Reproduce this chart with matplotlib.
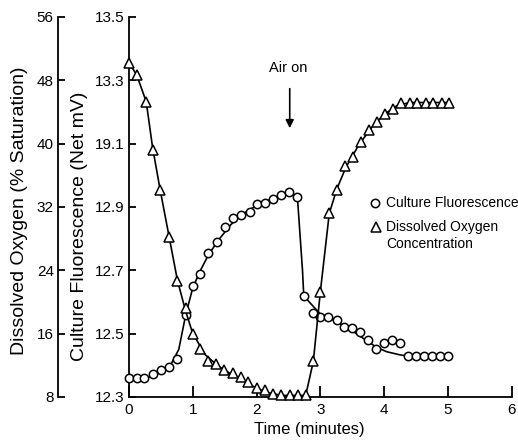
import matplotlib
matplotlib.use('Agg')
import matplotlib.pyplot as plt

plt.rcParams['font.family'] = ['Liberation Sans', 'DejaVu Sans']

# measured data (minutes)
fluor_t = [0.0, 0.12, 0.24, 0.37, 0.50, 0.63, 0.76, 0.89, 1.0, 1.12,
           1.24, 1.38, 1.50, 1.63, 1.76, 1.89, 2.01, 2.13, 2.26, 2.38, 2.51, 2.64,
           2.74, 2.88, 2.99, 3.12, 3.26, 3.37, 3.50, 3.62, 3.75, 3.87, 4.0, 4.13, 4.25,
           4.38, 4.50, 4.63, 4.75, 4.88, 5.0]
fluor_mv = [12.359, 12.359, 12.359, 12.373, 12.385, 12.396, 12.421, 12.559, 12.651, 12.688,
            12.754, 12.789, 12.838, 12.864, 12.875, 12.885, 12.908, 12.914, 12.924, 12.938, 12.946, 12.932,
            12.619, 12.566, 12.554, 12.554, 12.543, 12.520, 12.517, 12.506, 12.480, 12.453, 12.470, 12.480, 12.471,
            12.429, 12.429, 12.429, 12.429, 12.429, 12.429]

do_t = [0.0, 0.12, 0.27, 0.37, 0.49, 0.63, 0.76, 0.89, 1.0, 1.11,
        1.24, 1.37, 1.49, 1.63, 1.76, 1.87, 2.01, 2.13, 2.26, 2.39, 2.52, 2.65, 2.77,
        2.89, 3.0, 3.14, 3.26, 3.38, 3.51, 3.64, 3.76, 3.89, 4.01, 4.14, 4.27,
        4.40, 4.52, 4.65, 4.77, 4.90, 5.02]
do_sat = [50.2, 48.7, 45.3, 39.2, 34.1, 28.2, 22.7, 19.2, 16.0, 14.1,
          12.5, 12.2, 11.4, 11.0, 10.5, 9.9, 9.1, 8.9, 8.4, 8.25, 8.25, 8.25, 8.25,
          12.5, 21.3, 31.2, 34.1, 37.2, 38.3, 40.2, 41.7, 42.8, 43.8, 44.4, 45.1,
          45.2, 45.2, 45.2, 45.2, 45.2, 45.2]

# hand-drawn fitted curves
fluor_fit_t = [0.0, 0.3, 0.5, 0.65, 0.78, 0.89, 1.0, 1.12, 1.25, 1.4, 1.6, 1.8, 2.0, 2.2, 2.4, 2.52, 2.64,
               2.72, 2.74, 2.99, 3.26, 3.52, 3.88, 4.04, 4.25, 4.38, 5.0]
fluor_fit_mv = [12.355, 12.362, 12.378, 12.40, 12.45, 12.56, 12.645, 12.70, 12.75, 12.795, 12.845, 12.88,
                12.905, 12.922, 12.938, 12.946, 12.932,
                12.70, 12.619, 12.564, 12.538, 12.506, 12.457, 12.443, 12.433, 12.429, 12.429]

do_fit_t = [0.0, 0.12, 0.27, 0.37, 0.49, 0.63, 0.76, 0.89, 1.0, 1.2, 1.4, 1.6, 1.8, 2.0, 2.2, 2.4, 2.77,
            2.89, 3.0, 3.14, 3.26, 3.4, 3.6, 3.8, 4.0, 4.2, 4.4, 5.02]
do_fit_sat = [50.2, 48.7, 45.3, 39.5, 34.1, 28.2, 22.7, 18.8, 16.0, 13.3, 11.9, 10.9, 10.0, 9.1, 8.5, 8.2, 8.2,
              12.5, 21.3, 31.2, 34.3, 37.0, 39.8, 42.0, 43.7, 44.8, 45.2, 45.2]

fluor_ticks = [12.3, 12.5, 12.7, 12.9, 13.1, 13.3, 13.5]
fluor_ticklabels = ['12.3', '12.5', '12.7', '12.9', '19.1', '13.3', '13.5']
do_ticks = [8, 16, 24, 32, 40, 48, 56]

fig = plt.figure(figsize=(5.18, 4.41), dpi=100)
ax = fig.add_axes([129 / 518, 44 / 441, 382.7 / 518, 380 / 441])
ax2 = ax.twinx()

fs = 11
for a in (ax, ax2):
    for s in ('top', 'right'):
        a.spines[s].set_visible(False)
    a.spines['left'].set_linewidth(1.3)
    a.spines['bottom'].set_linewidth(1.3)

# inner axis: fluorescence
ax.plot(fluor_fit_t, fluor_fit_mv, color='black', lw=1.2, zorder=2)
ax.plot(fluor_t, fluor_mv, 'o', ms=6, mfc='white', mec='black', mew=1.1, clip_on=False, zorder=3)
ax.set_xlim(0, 6)
ax.set_ylim(12.3, 13.5)
ax.set_xticks(range(7))
ax.set_yticks(fluor_ticks)
ax.set_yticklabels(fluor_ticklabels)
ax.tick_params(axis='both', direction='in', labelsize=fs, width=1.3, color='black')
ax.tick_params(axis='y', length=5, pad=3)
ax.tick_params(axis='x', length=8, pad=4)
ax.set_ylabel('Culture Fluorescence (Net mV)', fontsize=14)
ax.yaxis.set_label_coords(-0.107, 0.45)
ax.set_xlabel('Time (minutes)', fontsize=12)
ax.xaxis.set_label_coords(0.47, -0.066)

# outer axis: dissolved oxygen
ax2.spines['right'].set_visible(False)
ax2.spines['bottom'].set_visible(False)
ax2.spines['left'].set_visible(True)
ax2.spines['left'].set_position(('axes', (58 - 129) / 382.7))
ax2.yaxis.set_ticks_position('left')
ax2.yaxis.set_label_position('left')
ax2.plot(do_fit_t, do_fit_sat, color='black', lw=1.2, zorder=2)
ax2.plot(do_t, do_sat, '^', ms=7, mfc='white', mec='black', mew=1.1, clip_on=False, zorder=3)
ax2.set_ylim(8, 56)
ax2.set_yticks(do_ticks)
ax2.tick_params(axis='y', direction='in', length=5, width=1.3, labelsize=fs, pad=3)
ax2.set_ylabel('Dissolved Oxygen (% Saturation)', fontsize=14)
ax2.yaxis.set_label_coords(-0.264, 0.49)

# air on annotation
ax2.annotate('', xy=(2.52, 41.6), xytext=(2.52, 47.3),
             arrowprops=dict(arrowstyle='-|>', color='black', lw=1.2, mutation_scale=12))
ax2.text(2.50, 49.6, 'Air on', ha='center', va='center', fontsize=10.5)

# legend
ax2.plot([3.86], [32.5], 'o', ms=6, mfc='white', mec='black', mew=1.1, clip_on=False)
ax2.text(4.03, 32.5, 'Culture Fluorescence', va='center', fontsize=10)
ax2.plot([3.87], [29.5], '^', ms=7, mfc='white', mec='black', mew=1.1, clip_on=False)
ax2.text(4.03, 30.3, 'Dissolved Oxygen\nConcentration', va='top', fontsize=10, linespacing=1.25)

fig.savefig('out.png', dpi=100)
